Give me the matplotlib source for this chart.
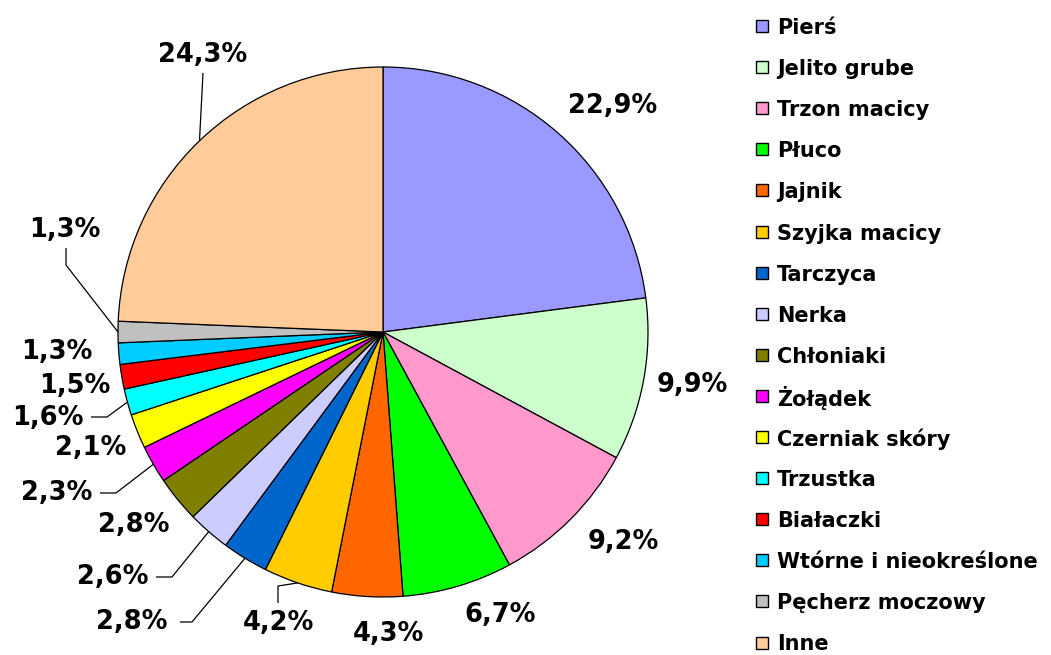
import matplotlib
matplotlib.use("Agg")
import matplotlib.pyplot as plt
from matplotlib.patches import Rectangle
import numpy as np

plt.rcParams['font.family'] = ['DejaVu Sans']

categories = ["Pierś", "Jelito grube", "Trzon macicy", "Płuco", "Jajnik",
              "Szyjka macicy", "Tarczyca", "Nerka", "Chłoniaki", "Żołądek",
              "Czerniak skóry", "Trzustka", "Białaczki", "Wtórne i nieokreślone",
              "Pęcherz moczowy", "Inne"]
values = [22.9, 9.9, 9.2, 6.7, 4.3, 4.2, 2.8, 2.6, 2.8, 2.3, 2.1, 1.6, 1.5, 1.3, 1.3, 24.3]
value_labels = ["22,9%", "9,9%", "9,2%", "6,7%", "4,3%", "4,2%", "2,8%", "2,6%", "2,8%",
                "2,3%", "2,1%", "1,6%", "1,5%", "1,3%", "1,3%", "24,3%"]
colors = ["#9999FF", "#CCFFCC", "#FF99CC", "#00FF00", "#FF6600", "#FFCC00", "#0066CC",
          "#CCCCFF", "#808000", "#FF00FF", "#FFFF00", "#00FFFF", "#FF0000", "#00CCFF",
          "#C0C0C0", "#FFCC99"]

# layout (pixel coordinates, y downward)
W, H = 1051, 655
CX, CY, R = 383, 332, 265
label_pos = [(613, 106), (692, 385), (623, 542), (500, 615), (389, 634), (278, 623),
             (132, 622), (113, 577), (134, 525), (57, 493), (91, 448), (48, 418),
             (75, 386), (57, 352), (65, 230), (203, 55)]
leaders = {5: [(278, 586), (278, 603)],
           6: [(192, 622), (180, 622)],
           7: [(172, 577), (156, 577)],
           9: [(116, 493), (100, 493)],
           11: [(107, 417), (91, 417)],
           14: [(66, 265), (66, 248)],
           15: [(203, 73)]}
LEG_X, LEG_Y0, LEG_DY, SQ = 756, 26, 41.1, 12

fig = plt.figure(figsize=(W / 100, H / 100), dpi=100)
ax = fig.add_axes([0, 0, 1, 1])
wedges, _ = ax.pie(values, colors=colors, startangle=90, counterclock=False,
                   center=(CX, H - CY), radius=R, frame=True,
                   wedgeprops=dict(edgecolor="black", linewidth=0.9))
ax.set_xlim(0, W)
ax.set_ylim(0, H)
ax.set_aspect("equal")
ax.axis("off")

for i, w in enumerate(wedges):
    lx, ly = label_pos[i]
    ax.text(lx, H - ly, value_labels[i], ha="center", va="center",
            fontsize=18.5, fontweight="bold", color="black")
    if i in leaders:
        ang = np.deg2rad((w.theta1 + w.theta2) / 2)
        x0 = CX + R * np.cos(ang)
        y0 = (H - CY) + R * np.sin(ang)
        xs = [x0] + [p[0] for p in leaders[i]]
        ys = [y0] + [H - p[1] for p in leaders[i]]
        ax.plot(xs, ys, color="black", linewidth=0.9, solid_capstyle="butt")

# legend
for i, (name, col) in enumerate(zip(categories, colors)):
    yc = H - (LEG_Y0 + i * LEG_DY)
    ax.add_patch(Rectangle((LEG_X, yc - SQ / 2), SQ, SQ, facecolor=col,
                           edgecolor="black", linewidth=1.0))
    ax.text(LEG_X + SQ + 9, yc, name, ha="left", va="center_baseline",
            fontsize=15, fontweight="bold", color="black")

fig.savefig("out.png", dpi=100)
